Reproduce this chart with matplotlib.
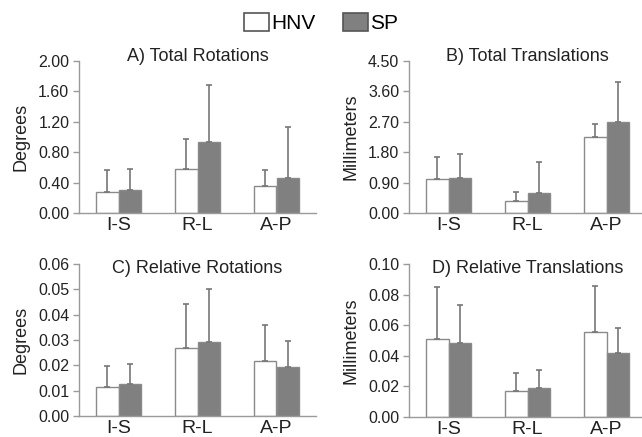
import matplotlib
matplotlib.use("Agg")
import matplotlib.pyplot as plt
import numpy as np
from matplotlib.patches import Patch

plt.rcParams['font.family'] = ['Liberation Sans', 'DejaVu Sans']

categories = ["I-S", "R-L", "A-P"]
series_names = ["HNV", "SP"]

# Panel A: Total Rotations (degrees)
a_hnv = [0.28, 0.58, 0.35]
a_hnv_err = [0.28, 0.40, 0.21]
a_sp = [0.30, 0.93, 0.46]
a_sp_err = [0.28, 0.75, 0.67]

# Panel B: Total Translations (mm)
b_hnv = [1.01, 0.36, 2.25]
b_hnv_err = [0.64, 0.26, 0.38]
b_sp = [1.03, 0.60, 2.68]
b_sp_err = [0.71, 0.90, 1.19]

# Panel C: Relative Rotations (degrees)
c_hnv = [0.0115, 0.0267, 0.0217]
c_hnv_err = [0.0082, 0.0174, 0.0142]
c_sp = [0.0128, 0.0293, 0.0193]
c_sp_err = [0.0077, 0.0209, 0.0103]

# Panel D: Relative Translations (mm)
d_hnv = [0.0512, 0.0172, 0.0556]
d_hnv_err = [0.0338, 0.0116, 0.0302]
d_sp = [0.0486, 0.0192, 0.0420]
d_sp_err = [0.0248, 0.0113, 0.0162]

panels = [
    ("A) Total Rotations", "Degrees", a_hnv, a_hnv_err, a_sp, a_sp_err,
     np.arange(0, 2.001, 0.4), "{:.2f}"),
    ("B) Total Translations", "Millimeters", b_hnv, b_hnv_err, b_sp, b_sp_err,
     np.arange(0, 4.501, 0.9), "{:.2f}"),
    ("C) Relative Rotations", "Degrees", c_hnv, c_hnv_err, c_sp, c_sp_err,
     np.arange(0, 0.0601, 0.01), "{:.2f}"),
    ("D) Relative Translations", "Millimeters", d_hnv, d_hnv_err, d_sp, d_sp_err,
     np.arange(0, 0.1001, 0.02), "{:.2f}"),
]

W, H = 642, 437
fig = plt.figure(figsize=(W / 100, H / 100), dpi=100)

# pixel boxes: left, top, right, bottom
boxes = [(79, 61, 316, 213), (409, 61, 646, 213),
         (79, 264, 316, 416), (409, 264, 646, 417)]
title_y = [1.03, 1.03, 0.97, 0.97]

spine_col = "#9a9a9a"
edge_col = "#8a8a8a"
sp_col = "#808080"
err_col = "#777777"
txt_col = "#222222"

x = np.arange(len(categories))
w = 0.28

for i, (title, ylab, hv, he, sv, se, yt, fmt) in enumerate(panels):
    l, t, r, b = boxes[i]
    ax = fig.add_axes([l / W, (H - b) / H, (r - l) / W, (b - t) / H])
    ax.bar(x - w / 2, hv, w, color="white", edgecolor=edge_col, linewidth=1.0, zorder=2)
    ax.bar(x + w / 2, sv, w, color=sp_col, edgecolor=edge_col, linewidth=1.0, zorder=2)
    ax.errorbar(x - w / 2, hv, yerr=[np.zeros(3), he], fmt="none", ecolor=err_col,
                elinewidth=1.2, capsize=2, capthick=1.2, zorder=3)
    ax.errorbar(x + w / 2, sv, yerr=[np.zeros(3), se], fmt="none", ecolor=err_col,
                elinewidth=1.2, capsize=2, capthick=1.2, zorder=3)
    ax.set_xlim(-0.5, 2.5)
    ax.set_ylim(0, yt[-1])
    ax.set_yticks(yt)
    ax.set_yticklabels([fmt.format(v) for v in yt], fontsize=11.5, color=txt_col)
    ax.set_xticks(x)
    ax.set_xticklabels(categories, fontsize=14, color=txt_col)
    ax.tick_params(axis="x", length=0, pad=3)
    ax.tick_params(axis="y", length=4, width=1, color=spine_col, pad=3)
    for s in ["top", "right"]:
        ax.spines[s].set_visible(False)
    for s in ["left", "bottom"]:
        ax.spines[s].set_color(spine_col)
        ax.spines[s].set_linewidth(1.0)
    ax.set_ylabel(ylab, fontsize=13, color=txt_col, labelpad=6)
    ax.set_title(title, fontsize=13, color=txt_col, y=title_y[i], pad=0, va="center")
    ax.patch.set_visible(False)

handles = [Patch(facecolor="white", edgecolor="#555555", linewidth=1.2),
           Patch(facecolor=sp_col, edgecolor="#555555", linewidth=1.2)]
fig.legend(handles, series_names, loc="center", bbox_to_anchor=(0.5, 1 - 23 / H),
           ncol=2, frameon=False, fontsize=15, handlelength=1.2, handleheight=0.95,
           handletextpad=0.1, columnspacing=1.3, borderpad=0)

fig.savefig("out.png", dpi=100)
